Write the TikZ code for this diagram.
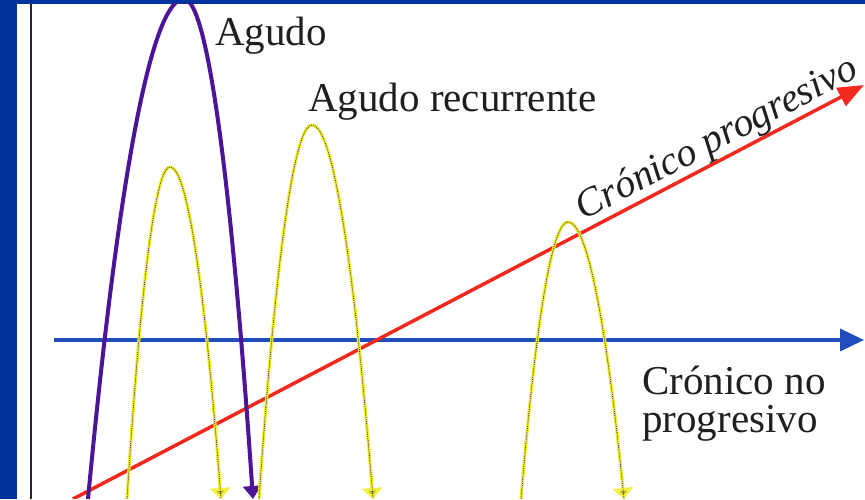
\documentclass[tikz,border=0pt]{standalone}
\usepackage{fontspec}
\setmainfont{Liberation Serif}
\usepackage{tikz}
\usetikzlibrary{arrows.meta}
\definecolor{Navy}{HTML}{00339C}
\definecolor{AxisBlue}{HTML}{1F4DBA}
\definecolor{ChronicRed}{HTML}{F5281E}
\definecolor{AcutePurple}{HTML}{4A1596}
\definecolor{RelapseYellow}{HTML}{F2F03A}
\definecolor{RelapseDots}{HTML}{4A4822}
\tikzset{
  label text/.style={font=\fontsize{41}{38}\selectfont,inner sep=0pt,text=black!88},
  slope text/.style={label text,font=\fontsize{40}{38}\selectfont\itshape},
  relapse/.style={RelapseYellow,line width=3.2pt,
    -{Triangle[width=20pt,length=11pt,fill=RelapseYellow!60!RelapseDots]},
    postaction={draw=RelapseDots,line width=0.9pt,densely dotted,-}}
}

\begin{document}
\begin{tikzpicture}[x=1pt,y=1pt,>=Latex]
  \fill[Navy] (0,0) rectangle (865,499);
  \fill[white] (17,0) rectangle (865,495);
  \draw[black!85,line width=1.6pt] (31,0) -- (31,495);
  \begin{scope}
    \clip (17,0) rectangle (865,495);
    \draw[AxisBlue,line width=3.5pt,-{Triangle[width=22pt,length=24pt]}] (54,159) -- (864,159);
    \draw[ChronicRed,line width=3.5pt,-{Triangle[width=20pt,length=26pt]}] (73,0) -- (864,414)
      coordinate[pos=0.826] (slopemid);
    \draw[AcutePurple,line width=4pt,-{Triangle[width=18pt,length=13pt]}]
      (88,0) parabola bend (184,500) (253,0);
    \foreach \a/\px/\py/\b in {127/170/332/221, 259/312/374/373, 521/568/277/624}
    {
      \draw[relapse] (\a,0) parabola bend (\px,\py) (\b,0);
    }
  \end{scope}
  \node[slope text,anchor=south,rotate=27.6,yshift=1pt] (progresivo) at (slopemid) {Crónico progresivo};
  \node[label text,anchor=base west] (agudo) at (215,453) {Agudo};
  \node[label text,anchor=base west] (recurrente) at (308,387) {Agudo recurrente};
  \node[label text,anchor=north west,align=left] (noprogresivo) at (642,133) {Crónico no\\progresivo};
\end{tikzpicture}
\end{document}
